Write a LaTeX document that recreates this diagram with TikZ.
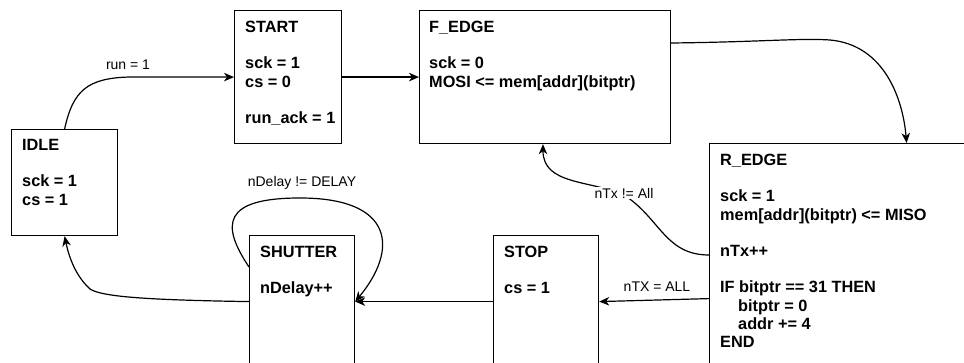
\documentclass[tikz,border=0pt]{standalone}
\usepackage{fontspec}
\setmainfont{Liberation Sans}
\usetikzlibrary{arrows.meta,calc}

\tikzset{
  statebox/.style={draw, line width=1.2pt, anchor=north west, inner sep=0pt},
  statetext/.style={anchor=north west, inner sep=0pt, align=left,
    font=\fontsize{16.3}{18.2}\selectfont\bfseries},
  edgelabel/.style={inner sep=1pt, font=\fontsize{14}{16}\selectfont},
  edge/.style={line width=1.2pt, -{Stealth[length=10pt,width=8.5pt,inset=3pt]}},
}

\begin{document}
\begin{tikzpicture}[x=1pt, y=-1pt]
\useasboundingbox (0,0) rectangle (964,363);
\fill[white] (0,0) rectangle (964,363);
\clip (0,0) rectangle (964,363);

% state boxes
\node[statebox, minimum width=106, minimum height=106] (idle)    at (11,129)  {};
\node[statebox, minimum width=107, minimum height=133] (start)   at (234,10)  {};
\node[statebox, minimum width=251, minimum height=133] (fedge)   at (419,10)  {};
\node[statebox, minimum width=394, minimum height=310] (redge)   at (709,143) {};
\node[statebox, minimum width=105, minimum height=132] (stop)    at (493,235) {};
\node[statebox, minimum width=105, minimum height=132] (shutter) at (249,235) {};

% state contents
\node[statetext] (idle-t) at ($(idle.north west)+(11,10)$)
  {IDLE\\[18.2pt] sck = 1\\ cs = 1};
\node[statetext] (start-t) at ($(start.north west)+(11,11)$)
  {START\\[18.2pt] sck = 1\\ cs = 0\\[18.2pt] run\_ack = 1};
\node[statetext] (fedge-t) at ($(fedge.north west)+(10,11)$)
  {F\_EDGE\\[18.2pt] sck = 0\\ MOSI <= mem[addr](bitptr)};
\node[statetext] (redge-t) at ($(redge.north west)+(11,11)$)
  {R\_EDGE\\[18.2pt] sck = 1\\ mem[addr](bitptr) <= MISO\\[18.2pt]
   nTx++\\[18.2pt] IF bitptr == 31 THEN\\ \hspace*{18pt}bitptr = 0\\
   \hspace*{18pt}addr += 4\\ END};
\node[statetext] (stop-t) at ($(stop.north west)+(11,11)$)
  {STOP\\[18.2pt] cs = 1};
\node[statetext] (shutter-t) at ($(shutter.north west)+(11,11)$)
  {SHUTTER\\[18.2pt] nDelay++};

% transitions
\draw[edge] (idle.north) .. controls (73,90) and (88,78) .. (130,77) -- (start.west);
\draw[edge] (start.east) -- (fedge.west);
\draw[edge] ($(fedge.north east)+(0,33)$) .. controls (760,42) and (800,38) .. (830,40)
  .. controls (885,45) and (903,100) .. (redge.north);
\draw[edge] ($(redge.north west)+(0,112)$) .. controls (665,255) and (660,218) .. (624,195)
  .. controls (590,180) and (543,185) .. ($(fedge.south west)+(124,0)$);
\draw[edge] (redge.west) -- (stop.east);
\draw[edge] (stop.west) -- (shutter.east);
\draw[edge] ($(shutter.north west)+(0,32)$) .. controls (221,225) and (222,198) .. (300,198)
  .. controls (395,198) and (398,250) .. (shutter.east);
\draw[edge] (shutter.west) .. controls (150,300) and (102,297) .. (90,289)
  .. controls (78,278) and (70,262) .. (idle.south);

% transition labels
\node[edgelabel] (l-run)   at (128,65)  {run = 1};
\node[edgelabel] (l-delay) at (302,183) {nDelay != DELAY};
\node[edgelabel, fill=white] (l-ntx) at (624,193) {nTx != All};
\node[edgelabel] (l-all)   at (657,287) {nTX = ALL};
\end{tikzpicture}
\end{document}
